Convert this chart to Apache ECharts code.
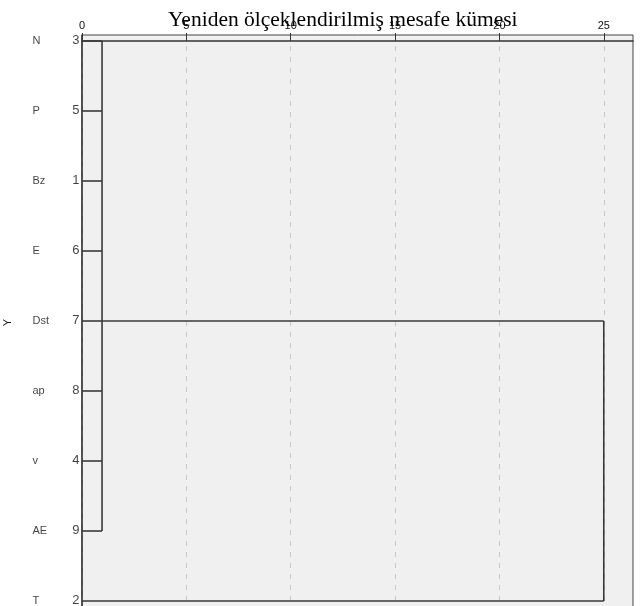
<!DOCTYPE html>
<html>
<head>
<meta charset="utf-8">
<script src="https://cdn.jsdelivr.net/npm/echarts@6/dist/echarts.min.js"></script>
<style>
  html, body { margin: 0; padding: 0; background: #fff; }
  #main { width: 644px; height: 606px; }
</style>
</head>
<body>
<div id="main"></div>
<script>
// yapraklar (dendrogram sirasi)
var rowNames = ['N', 'P', 'Bz', 'E', 'Dst', 'ap', 'v', 'AE', 'T'];
var caseNums = [3, 5, 1, 6, 7, 8, 4, 9, 2];
// birinci kume: satir 0-7, yukseklik ~1
var clusterRows = [0, 1, 2, 3, 4, 5, 6, 7];
var clusterHeight = 0.96;
var clusterLinkRow = 4;
// son birlesme
var finalHeight = 25;
var finalRows = [4, 8];
var xTicks = [0, 5, 10, 15, 20, 25];

var lineColor = '#3a3a3a';
var segments = [];
clusterRows.forEach(function (r) {
  segments.push([[0, r], [clusterHeight, r]]);
});
segments.push([[clusterHeight, clusterRows[0]], [clusterHeight, clusterRows[clusterRows.length - 1]]]);
segments.push([[clusterHeight, clusterLinkRow], [finalHeight, clusterLinkRow]]);
segments.push([[0, finalRows[1]], [finalHeight, finalRows[1]]]);
segments.push([[finalHeight, finalRows[0]], [finalHeight, finalRows[1]]]);

var series = segments.map(function (seg) {
  return {
    type: 'line',
    data: seg,
    symbol: 'none',
    silent: true,
    clip: false,
    lineStyle: { color: lineColor, width: 1.6 },
    z: 5
  };
});

var labelFont = 'Liberation Sans Narrow, Liberation Sans, sans-serif';
series.push({
  type: 'scatter',
  symbolSize: 1,
  silent: true,
  itemStyle: { color: 'rgba(0,0,0,0)' },
  data: caseNums.map(function (c, i) { return [0, i]; }),
  label: {
    show: true,
    position: [-2, 0],
    align: 'right',
    verticalAlign: 'middle',
    fontFamily: labelFont,
    fontSize: 13,
    color: '#111',
    formatter: function (p) { return String(caseNums[p.dataIndex]); }
  }
});
series.push({
  type: 'scatter',
  symbolSize: 1,
  silent: true,
  itemStyle: { color: 'rgba(0,0,0,0)' },
  data: rowNames.map(function (n, i) { return [0, i]; }),
  label: {
    show: true,
    position: [-49, 0],
    align: 'left',
    verticalAlign: 'middle',
    fontFamily: labelFont,
    fontSize: 11,
    color: '#111',
    formatter: function (p) { return rowNames[p.dataIndex]; }
  }
});

var chart = echarts.init(document.getElementById('main'), null, { renderer: 'canvas' });
chart.setOption({
  animation: false,
  backgroundColor: '#fff',
  title: {
    text: 'Yeniden ölçeklendirilmiş mesafe kümesi',
    left: 163,
    top: 4,
    textStyle: {
      fontFamily: 'Liberation Serif, Times New Roman, serif',
      fontWeight: 'normal',
      fontSize: 21.5,
      color: '#000'
    }
  },
  grid: {
    left: 82,
    right: 11,
    top: 35,
    bottom: -4,
    containLabel: false,
    outerBoundsMode: 'none',
    show: true,
    backgroundColor: '#f0f0f0',
    borderColor: '#444',
    borderWidth: 1
  },
  xAxis: {
    type: 'value',
    position: 'top',
    min: 0,
    max: 26.4,
    interval: 5,
    axisLine: { show: true, lineStyle: { color: '#333', width: 1.5 } },
    axisTick: { show: true, length: 8, lineStyle: { color: '#333' } },
    axisLabel: {
      margin: 4,
      color: '#111',
      fontSize: 11,
      fontFamily: labelFont,
      showMaxLabel: false,
      formatter: function (v) { return xTicks.indexOf(v) >= 0 ? String(v) : ''; }
    },
    splitLine: { show: true, showMaxLine: false, lineStyle: { color: '#c8c8c8', type: [5, 6] } }
  },
  yAxis: {
    type: 'value',
    inverse: true,
    min: -6 / 70,
    max: 569 / 70,
    name: 'Y',
    nameLocation: 'middle',
    nameGap: 69,
    nameTextStyle: { fontSize: 11, color: '#111', fontFamily: labelFont },
    axisLine: { show: true, lineStyle: { color: '#333', width: 1.5 } },
    axisTick: { show: false },
    axisLabel: { show: false },
    splitLine: { show: false }
  },
  series: series
});
</script>
</body>
</html>
